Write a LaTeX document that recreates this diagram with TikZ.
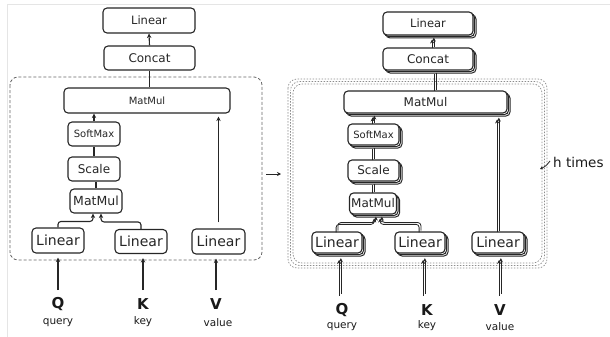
\documentclass[tikz,border=0pt]{standalone}
\usepackage{fontspec}
\setmainfont{DejaVu Sans}
\usetikzlibrary{arrows.meta,calc,shadows}
\newcommand\myfs[1]{\fontsize{#1}{#1}\selectfont}
\newcommand\dblline[2][]{\foreach \s in {-0.9,0.9}{\draw[#1, transform canvas={shift={(\s pt,\s pt)}}] #2;}}
\begin{document}
\begin{tikzpicture}[x=1pt,y=-1pt,
  box/.style={draw=black!85, line width=1.1pt, rounded corners=4pt, fill=white, inner sep=0pt, text=black!85},
  stk/.style={box,
    general shadow={shadow xshift=3pt,shadow yshift=-3pt,fill=white,draw=black!85,line width=1pt},
    general shadow={shadow xshift=1.5pt,shadow yshift=-1.5pt,fill=white,draw=black!85,line width=1pt}},
  conn/.style={draw=black!85, line width=1.1pt},
  arr/.style={conn, -{Stealth[length=4.5pt,width=4.5pt]}},
  thinconn/.style={draw=black!85, line width=0.8pt},
  thinarr/.style={thinconn, -{Stealth[length=4pt,width=4pt]}},
  grp/.style={draw=black!60, line width=0.8pt, dash pattern=on 3pt off 2pt, rounded corners=8pt},
  band/.style={draw=black!45, line width=0.7pt, dash pattern=on 1.5pt off 1.5pt, rounded corners=9pt},
  lab/.style={text=black!90, inner sep=0pt},
]
\useasboundingbox (0,0) rectangle (610,337);
% faint frame
\draw[black!10, line width=1pt] (7,337) -- (7,5) -- (610,5);

% ================= LEFT =================
\draw[grp] (10,77) rectangle (262,260);
\node[box, minimum width=92pt, minimum height=25pt, font=\myfs{11.5}] (lin) at (149,20.5) {Linear};
\node[box, minimum width=91pt, minimum height=24pt, font=\myfs{12}] (cat) at (149.5,58) {Concat};
\node[box, minimum width=166pt, minimum height=25pt, font=\myfs{10}] (mm1) at (147,100.5) {MatMul};
\node[box, minimum width=52pt, minimum height=24pt, font=\myfs{10}] (sm) at (94,134) {SoftMax};
\node[box, minimum width=52pt, minimum height=24pt, font=\myfs{12}] (sc) at (94,169) {Scale};
\node[box, minimum width=52pt, minimum height=24pt, font=\myfs{12.5}] (mm2) at (96,201) {MatMul};
\node[box, minimum width=52pt, minimum height=25pt, font=\myfs{14}] (lq) at (58,240.5) {Linear};
\node[box, minimum width=52pt, minimum height=24pt, font=\myfs{14}] (lk) at (141,241.5) {Linear};
\node[box, minimum width=53pt, minimum height=25pt, font=\myfs{14}] (lv) at (218.5,241.5) {Linear};

\draw[arr] (cat.north) -- (lin.south);
\draw[conn] (cat.south) -- (cat.south |- mm1.north);
\draw[arr] (sm.north) -- (sm.north |- mm1.south);
\draw[conn] (sc.north) -- (sm.south);
\draw[conn] (mm2.north) -- (mm2.north |- sc.south);
\draw[arr, rounded corners=3pt] (lq.north) -- ++(0,-6) -| ([xshift=-3pt]mm2.south);
\draw[arr, rounded corners=3pt] (lk.north) -- ++(0,-7) -| ([xshift=5pt]mm2.south);
\draw[arr, shorten <=6pt, shorten >=3pt] (lv.north) -- (lv.north |- mm1.south);

\coordinate (qin) at (58,290);
\coordinate (kin) at (143,290);
\coordinate (vin) at (216,290);
\draw[arr, shorten >=4pt] (qin) -- (qin |- lq.south);
\draw[arr, shorten >=4pt] (kin) -- (kin |- lk.south);
\draw[arr, shorten >=4pt] (vin) -- (vin |- lv.south);

\node[lab, font=\myfs{15}\bfseries] (ql) at (58,304) {Q};
\node[lab, font=\myfs{10.5}] (qs) at (58,323) {query};
\node[lab, font=\myfs{15}\bfseries] (kl) at (143,304) {K};
\node[lab, font=\myfs{10.5}] (ks) at (143,322) {key};
\node[lab, font=\myfs{15}\bfseries] (vl) at (216,304) {V};
\node[lab, font=\myfs{10.5}] (vs) at (218,323) {value};

% middle arrow
\coordinate (mida) at (266,174);
\coordinate (midb) at (281,174);
\draw[thinarr] (mida) -- (midb);

% ================= RIGHT =================
\draw[band] (288,79) rectangle (547,268);
\draw[band, dash phase=1.5pt] (290.5,81.5) rectangle (544.5,265.5);
\draw[band] (293,84) rectangle (542,263);

\node[stk, minimum width=90pt, minimum height=23pt, font=\myfs{11.5}] (rlin) at (428,23.5) {Linear};
\node[stk, minimum width=90pt, minimum height=22pt, font=\myfs{12}] (rcat) at (428,59) {Concat};
\node[stk, minimum width=163pt, minimum height=22pt, font=\myfs{12}] (rmm1) at (425.5,102) {MatMul};
\node[stk, minimum width=51pt, minimum height=21pt, font=\myfs{10}] (rsm) at (373.5,134.5) {SoftMax};
\node[stk, minimum width=51pt, minimum height=21pt, font=\myfs{12}] (rsc) at (373.5,170.5) {Scale};
\node[stk, minimum width=47pt, minimum height=21pt, font=\myfs{12}] (rmm2) at (373,203.5) {MatMul};
\node[stk, minimum width=50pt, minimum height=21pt, font=\myfs{14}] (rlq) at (337,242.5) {Linear};
\node[stk, minimum width=50pt, minimum height=21pt, font=\myfs{14}] (rlk) at (420,242.5) {Linear};
\node[stk, minimum width=52pt, minimum height=21pt, font=\myfs{14}] (rlv) at (498,242.5) {Linear};

\coordinate (rc1) at ([xshift=7pt,yshift=-3pt]rcat.south);
\dblline[thinarr]{([xshift=5pt]rcat.north) -- ([xshift=5pt,yshift=-3pt]rlin.south)}
\dblline[thinconn]{(rc1) -- (rc1 |- rmm1.north)}
\dblline[thinarr, shorten >=3pt]{(rsm.north) -- (rsm.north |- rmm1.south)}
\dblline[thinconn]{(rsc.north) -- ([yshift=-3pt]rsm.south)}
\dblline[thinconn, shorten >=3pt]{(rmm2.north) -- (rmm2.north |- rsc.south)}
\dblline[thinarr, rounded corners=3pt]{(rlq.north) -- ++(0,-8) -| ([xshift=2pt,yshift=-3pt]rmm2.south)}
\dblline[thinarr, rounded corners=3pt]{(rlk.north) -- ++(0,-8) -| ([xshift=8pt,yshift=-3pt]rmm2.south)}
\dblline[thinarr, shorten >=5pt]{(rlv.north) -- (rlv.north |- rmm1.south)}

\coordinate (rqin) at (340,295);
\coordinate (rkin) at (424,295);
\coordinate (rvin) at (500,295);
\dblline[thinarr, shorten >=5.5pt]{(rqin) -- (rqin |- rlq.south)}
\dblline[thinarr, shorten >=5.5pt]{(rkin) -- (rkin |- rlk.south)}
\dblline[thinarr, shorten >=5.5pt]{(rvin) -- (rvin |- rlv.south)}

\node[lab, font=\myfs{15}\bfseries] (rql) at (342,310) {Q};
\node[lab, font=\myfs{10.5}] (rqs) at (342,327) {query};
\node[lab, font=\myfs{15}\bfseries] (rkl) at (427,310) {K};
\node[lab, font=\myfs{10.5}] (rks) at (427,326) {key};
\node[lab, font=\myfs{15}\bfseries] (rvl) at (500,310) {V};
\node[lab, font=\myfs{10.5}] (rvs) at (500,327) {value};

% h times
\node[lab, font=\myfs{13.5}, anchor=west] (ht) at (553,162) {h times};
\coordinate (htp) at (540,169);
\draw[thinconn, -{Stealth[length=3pt,width=3pt]}] ([xshift=-3pt,yshift=1pt]ht.west) .. controls (546,166) .. (htp);
\end{tikzpicture}
\end{document}
